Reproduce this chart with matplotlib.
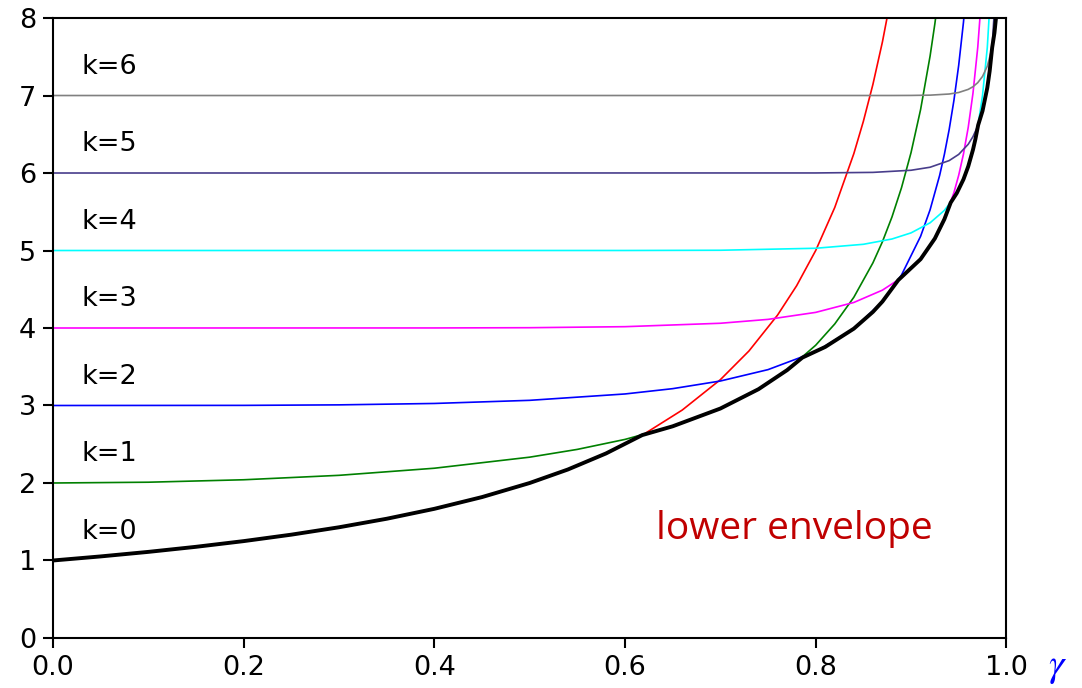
import matplotlib.pyplot as plt

# each k-curve gets its own gamma samples, denser where it bends
g0 = [0.0, 0.05, 0.1, 0.15, 0.2, 0.25, 0.3, 0.35, 0.4, 0.45, 0.5, 0.54, 0.58, 0.62, 0.66,
      0.7, 0.73, 0.76, 0.78, 0.80, 0.82, 0.84, 0.85, 0.86, 0.87, 0.88]
k0 = [1.0, 1.0526, 1.1111, 1.1765, 1.25, 1.3333, 1.4286, 1.5385, 1.6667, 1.8182, 2.0, 2.1739,
      2.381, 2.6316, 2.9412, 3.3333, 3.7037, 4.1667, 4.5455, 5.0, 5.5556, 6.25, 6.6667,
      7.1429, 7.6923, 8.3333]

g1 = [0.0, 0.1, 0.2, 0.3, 0.4, 0.5, 0.55, 0.6, 0.65, 0.7, 0.74, 0.77, 0.8, 0.82, 0.84, 0.86,
      0.87, 0.88, 0.89, 0.9, 0.91, 0.92, 0.925, 0.93]
k1 = [2.0, 2.0101, 2.0417, 2.0989, 2.1905, 2.3333, 2.4337, 2.5625, 2.7316, 2.9608, 3.2104,
      3.4564, 3.7778, 4.0525, 4.3967, 4.8402, 5.1135, 5.4326, 5.81, 6.2632, 6.8173, 7.5104,
      7.9264, 8.4019]

g2 = [0.0, 0.2, 0.3, 0.4, 0.5, 0.6, 0.65, 0.7, 0.75, 0.8, 0.84, 0.87, 0.89, 0.91, 0.92, 0.93,
      0.935, 0.94, 0.945, 0.95, 0.955, 0.96]
k2 = [3.0, 3.0016, 3.0082, 3.0263, 3.0667, 3.1489, 3.2173, 3.316, 3.4629, 3.6938, 3.9915,
      4.3414, 4.684, 5.1822, 5.526, 5.969, 6.2421, 6.561, 6.938, 7.3911, 7.945, 8.6379]

g3 = [0.0, 0.4, 0.5, 0.6, 0.7, 0.75, 0.8, 0.84, 0.87, 0.89, 0.91, 0.925, 0.935, 0.945, 0.95,
      0.955, 0.96, 0.965, 0.97, 0.975]
k3 = [4.0, 4.0007, 4.0039, 4.0171, 4.0612, 4.1113, 4.2016, 4.3296, 4.4886, 4.6492, 4.8877,
      5.155, 5.4045, 5.7472, 5.9711, 6.2455, 6.5892, 7.0323, 7.6241, 8.4543]

g4 = [0.0, 0.6, 0.7, 0.8, 0.85, 0.88, 0.9, 0.92, 0.935, 0.945, 0.955, 0.96, 0.965, 0.97,
      0.975, 0.98, 0.985]
k4 = [5.0, 5.0003, 5.0033, 5.029, 5.0802, 5.1486, 5.2274, 5.3576, 5.5179, 5.6792, 5.9183,
      6.0851, 6.3015, 6.5924, 7.0024, 7.6204, 8.6557]

g5 = [0.0, 0.8, 0.86, 0.9, 0.92, 0.94, 0.95, 0.96, 0.965, 0.97, 0.975, 0.98, 0.985, 0.99]
k5 = [6.0, 6.0008, 6.0081, 6.0356, 6.0746, 6.1602, 6.2402, 6.3714, 6.4701, 6.6059, 6.8012,
      7.1003, 7.608, 8.6361]

g6 = [0.0, 0.88, 0.9, 0.92, 0.94, 0.95, 0.96, 0.965, 0.97, 0.975, 0.98, 0.985, 0.99]
k6 = [7.0, 7.0003, 7.0012, 7.0048, 7.0194, 7.039, 7.0792, 7.1139, 7.166, 7.2466, 7.3782,
      7.6133, 8.1079]

# lower envelope (switches curve at each crossing)
g_env = [0.0, 0.05, 0.1, 0.15, 0.2, 0.25, 0.3, 0.35, 0.4, 0.45, 0.5, 0.54, 0.58, 0.618,
         0.65, 0.7, 0.74, 0.77, 0.786, 0.81, 0.84, 0.86, 0.87, 0.8866, 0.91, 0.925, 0.935,
         0.9416, 0.948, 0.955, 0.96, 0.965, 0.9675, 0.9704, 0.975, 0.98, 0.9825, 0.9851,
         0.9875, 0.99]
env = [1.0, 1.0526, 1.1111, 1.1765, 1.25, 1.3333, 1.4286, 1.5385, 1.6667, 1.8182, 2.0, 2.1739,
       2.381, 2.618, 2.7316, 2.9608, 3.2104, 3.4564, 3.618, 3.7558, 3.9915, 4.2076, 4.3414,
       4.618, 4.8877, 5.155, 5.4045, 5.618, 5.7407, 5.9183, 6.0851, 6.3015, 6.4355, 6.618,
       6.8012, 7.1003, 7.3169, 7.618, 7.8085, 8.1079]

gammas = [g0, g1, g2, g3, g4, g5, g6]
curves = [k0, k1, k2, k3, k4, k5, k6]
colors = ['red', 'green', 'blue', 'magenta', 'cyan', '#483D8B', 'gray']
labels = ['k=0', 'k=1', 'k=2', 'k=3', 'k=4', 'k=5', 'k=6']

fig = plt.figure(figsize=(10.82, 6.88), dpi=100)
ax = fig.add_axes([0.049, 0.0727, 0.8811, 0.9011])

for g, vals, c in zip(gammas, curves, colors):
    ax.plot(g, vals, color=c, lw=1.2)

ax.plot(g_env, env, color='black', lw=2.8, zorder=5)

for i, lab in enumerate(labels):
    ax.text(0.03, i + 1.37, lab, fontsize=19.5, ha='left', va='center')

ax.text(0.632, 1.4, 'lower envelope', color='#C00000', fontsize=28,
        family='Open Sans', ha='left', va='center')

ax.set_xlim(0, 1)
ax.set_ylim(0, 8)
ax.set_xticks([0.0, 0.2, 0.4, 0.6, 0.8, 1.0])
ax.set_xticklabels(['0.0', '0.2', '0.4', '0.6', '0.8', '1.0'])
ax.set_yticks(range(9))
ax.tick_params(labelsize=19.5, length=7, width=1.5, direction='out', pad=5)
for s in ax.spines.values():
    s.set_linewidth(1.5)

fig.text(0.977, 0.030, r'$\gamma$', color='blue', fontsize=28, ha='center', va='center',
         math_fontfamily='stix')

fig.savefig('out.png', dpi=100)
